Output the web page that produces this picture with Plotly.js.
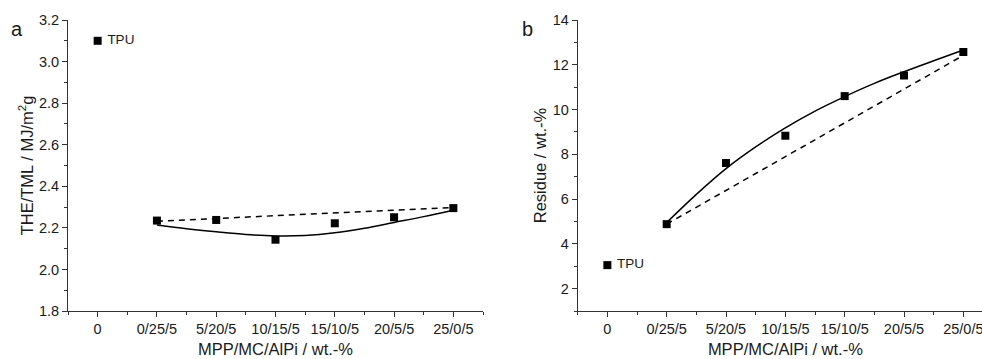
<!DOCTYPE html>
<html>
<head>
<meta charset="utf-8">
<script src="https://cdn.plot.ly/plotly-3.0.1.min.js"></script>
<style>
html,body{margin:0;padding:0;overflow:hidden;background:#fff;}
#chart{width:1000px;height:359px;}
</style>
</head>
<body>
<div id="chart"></div>
<script>
// Category tick labels (x positions 0..6)
const categories = ["0", "0/25/5", "5/20/5", "10/15/5", "15/10/5", "20/5/5", "25/0/5"];
const catIndex = [0, 1, 2, 3, 4, 5, 6];

// Panel a: THE/TML (MJ/m^2 g)
const tpuA = 3.10;
const theTml = [2.235, 2.238, 2.143, 2.222, 2.251, 2.295];   // 0/25/5 ... 25/0/5
const fitA_x = [1, 1.5, 2, 2.5, 3, 3.5, 4, 4.5, 5, 5.5, 6];
const fitA_y = [2.214, 2.196, 2.181, 2.168, 2.161, 2.163, 2.176, 2.198, 2.226, 2.254, 2.285];
const lineA_x = [1, 6];
const lineA_y = [2.232, 2.298];

// Panel b: Residue (wt.-%)
const tpuB = 3.05;
const residue = [4.88, 7.61, 8.83, 10.60, 11.52, 12.57];
const fitB_x = [1, 1.5, 2, 2.5, 3, 3.5, 4, 4.5, 5, 5.5, 6];
const fitB_y = [4.95, 6.21, 7.36, 8.33, 9.18, 9.93, 10.58, 11.17, 11.69, 12.18, 12.66];
const lineB_x = [1, 6];
const lineB_y = [4.88, 12.42];

const ink = "#1a1a1a";
const font = "Liberation Sans, Arial, sans-serif";
const mk = {symbol: "square", size: 8, color: "#000"};
const tpuLabel = "\u00a0TPU";

const traces = [
  {x: [0], y: [tpuA], mode: "markers+text", text: [tpuLabel], textposition: "middle right",
   textfont: {family: font, size: 13.5, color: ink}, marker: mk, xaxis: "x", yaxis: "y", cliponaxis: false},
  {x: fitA_x, y: fitA_y, mode: "lines", line: {color: "#000", width: 1.5, shape: "spline"}, xaxis: "x", yaxis: "y"},
  {x: lineA_x, y: lineA_y, mode: "lines", line: {color: "#000", width: 1.5, dash: "6px,5px"}, xaxis: "x", yaxis: "y"},
  {x: catIndex.slice(1), y: theTml, mode: "markers", marker: mk, xaxis: "x", yaxis: "y", cliponaxis: false},

  {x: [0], y: [tpuB], mode: "markers+text", text: [tpuLabel], textposition: "middle right",
   textfont: {family: font, size: 13.5, color: ink}, marker: mk, xaxis: "x2", yaxis: "y2", cliponaxis: false},
  {x: fitB_x, y: fitB_y, mode: "lines", line: {color: "#000", width: 1.5, shape: "spline"}, xaxis: "x2", yaxis: "y2"},
  {x: lineB_x, y: lineB_y, mode: "lines", line: {color: "#000", width: 1.5, dash: "6px,5px"}, xaxis: "x2", yaxis: "y2"},
  {x: catIndex.slice(1), y: residue, mode: "markers", marker: mk, xaxis: "x2", yaxis: "y2", cliponaxis: false}
];

function xAxis(domain, anchor) {
  return {
    domain: domain, anchor: anchor, range: [-0.5, 6.5],
    tickmode: "array", tickvals: catIndex, ticktext: categories,
    ticks: "outside", ticklen: 5, tickwidth: 1, tickcolor: "#333",
    minor: {tickmode: "linear", tick0: 0.5, dtick: 1, ticks: "outside", ticklen: 3, tickcolor: "#333"},
    showline: true, linecolor: "#333", linewidth: 1, mirror: false,
    showgrid: false, zeroline: false,
    tickfont: {family: font, size: 14.5, color: ink},
    title: {text: "MPP/MC/AlPi / wt.-%", font: {family: font, size: 16.5, color: ink}, standoff: 7}
  };
}
function yAxis(range, dtick, minorD, titleText, anchor) {
  return {
    anchor: anchor, range: range, dtick: dtick, tick0: 0,
    ticks: "outside", ticklen: 5, tickwidth: 1, tickcolor: "#333",
    minor: {dtick: minorD, ticks: "outside", ticklen: 3, tickcolor: "#333"},
    showline: true, linecolor: "#333", linewidth: 1, mirror: false,
    showgrid: false, zeroline: false,
    tickfont: {family: font, size: 14.5, color: ink},
    title: {text: titleText, font: {family: font, size: 16.5, color: ink}, standoff: 1}
  };
}

const layout = {
  width: 1000, height: 359,
  margin: {l: 0, r: 0, t: 20, b: 48},
  paper_bgcolor: "#fff", plot_bgcolor: "#fff",
  showlegend: false,
  xaxis: xAxis([0.068, 0.483], "y"),
  yaxis: Object.assign(yAxis([1.8, 3.2], 0.2, 0.1, "THE/TML / MJ/m<sup>2</sup>g", "x"), {tickformat: ".1f"}),
  xaxis2: xAxis([0.5777, 0.993], "y2"),
  yaxis2: yAxis([1, 14], 2, 1, "Residue / wt.-%", "x2"),
  annotations: [
    {text: "a", xref: "paper", yref: "paper", x: 0.0167, y: 1.0, yshift: -9, xanchor: "center", yanchor: "middle",
     showarrow: false, font: {family: font, size: 20, color: ink}},
    {text: "b", xref: "paper", yref: "paper", x: 0.5277, y: 1.0, yshift: -9, xanchor: "center", yanchor: "middle",
     showarrow: false, font: {family: font, size: 20, color: ink}}
  ]
};

Plotly.newPlot("chart", traces, layout, {displayModeBar: false, staticPlot: true});
</script>
</body>
</html>
